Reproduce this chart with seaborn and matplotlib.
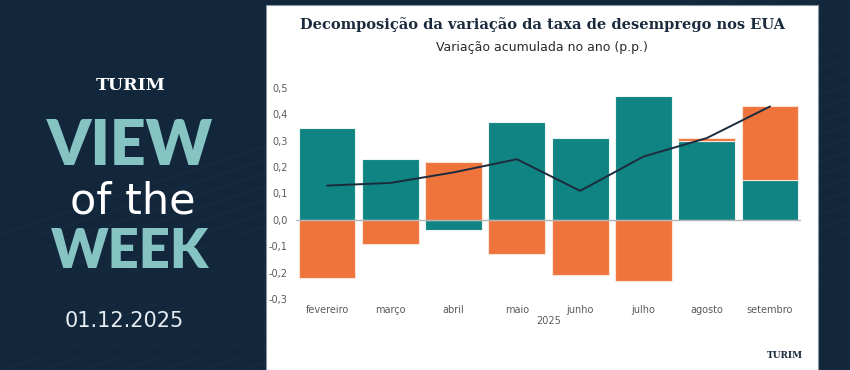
import numpy as np
import pandas as pd
import seaborn as sns
import matplotlib.pyplot as plt
from matplotlib.patches import Rectangle
from matplotlib.lines import Line2D
from matplotlib.ticker import FuncFormatter, MultipleLocator

# ---- data ----
months = ["fevereiro", "março", "abril", "maio", "junho", "julho", "agosto", "setembro"]
teal_vals = [0.35, 0.23, -0.04, 0.37, 0.31, 0.47, 0.30, 0.15]
orange_vals = [-0.22, -0.09, 0.22, -0.13, -0.21, -0.23, 0.01, 0.28]
total_vals = [0.13, 0.14, 0.18, 0.23, 0.11, 0.24, 0.31, 0.43]
year_label = "2025"
title = "Decomposição da variação da taxa de desemprego nos EUA"
subtitle = "Variação acumulada no ano (p.p.)"

NAVY = "#12263c"
TEAL = "#0f8482"
ORANGE = "#ef743b"
LINE = "#1c2c3e"
LIGHT_TEAL = "#86c4c3"

sns.set_theme(style="white")
plt.rcParams["font.family"] = ["DejaVu Sans"]

W, H = 850, 370
fig = plt.figure(figsize=(W / 100, H / 100), dpi=100)
fig.patch.set_facecolor(NAVY)

def px(x, y):
    return x / W, 1 - y / H

# faint diagonal lines in background (rising to the right)
for k in range(-10, 16):
    x0 = k * 40
    fig.add_artist(Line2D([x0 / W, (x0 + 1100) / W], [0.0, 1.0],
                          transform=fig.transFigure, color="white", alpha=0.03, lw=0.8))

# white panel
fig.add_artist(Rectangle(px(266, 370), (818 - 266) / W, (370 - 5) / H,
                         transform=fig.transFigure, facecolor="white",
                         edgecolor="#8a96a3", lw=0.8, zorder=1))

# ---- chart ----
df = pd.DataFrame({"mes": months, "teal": teal_vals, "orange": orange_vals, "total": total_vals})
t = np.array(teal_vals)
o = np.array(orange_vals)
orange_bottom = np.where((t > 0) & (o > 0), t, np.where((t < 0) & (o < 0), t, 0.0))

ax = fig.add_axes([296 / W, 1 - 299 / H, (801 - 296) / W, (299 - 88) / H])
ax.set_facecolor("white")
ax.set_zorder(2)
sns.barplot(data=df, x="mes", y="teal", color=TEAL, width=0.9, errorbar=None,
            saturation=1, edgecolor="#e9f4f3", linewidth=0.8, ax=ax)
sns.barplot(data=df, x="mes", y="orange", color=ORANGE, width=0.9, errorbar=None,
            saturation=1, edgecolor="#fbe3d8", linewidth=0.8, bottom=orange_bottom, ax=ax)
ax.axhline(0, color="#b5b5b5", lw=1.0, zorder=3)
sns.lineplot(x=np.arange(len(months)), y=df["total"], color=LINE, lw=1.4, ax=ax, zorder=4)

ax.set_ylim(-0.3, 0.5)
ax.set_xlim(-0.49, len(months) - 0.51)
ax.yaxis.set_major_locator(MultipleLocator(0.1))
ax.yaxis.set_major_formatter(FuncFormatter(lambda v, p: f"{v:.1f}".replace(".", ",").replace("-0,0", "0,0")))
for s in ax.spines.values():
    s.set_visible(False)
ax.tick_params(axis="both", length=0, labelsize=7, labelcolor="#5a5a5a")
ax.tick_params(axis="y", pad=6)
ax.tick_params(axis="x", pad=4)
ax.set_ylabel("")
ax.set_xlabel(year_label, fontsize=7, color="#5a5a5a", labelpad=1)
ax.grid(False)

fig.text(542 / W, 1 - 25 / H, title, ha="center", va="center", fontsize=10.5,
         fontweight="bold", family="DejaVu Serif", color="#1b2b3d", zorder=5)
fig.text(542 / W, 1 - 47 / H, subtitle, ha="center", va="center", fontsize=9,
         color="#2a2a2a", zorder=5)

# bottom-right logo
fig.text(785 / W, 1 - 356 / H, "TURIM", ha="center", va="center", fontsize=6.5,
         fontweight="bold", family="DejaVu Serif", color="#1b2b3d", zorder=5)

# ---- left panel ----
fig.text(131 / W, 1 - 85 / H, "TURIM", ha="center", va="center", fontsize=12.5,
         fontweight="bold", family="DejaVu Serif", color="white")
fig.text(130 / W, 1 - 165 / H, "VIEW", ha="center", va="baseline", fontsize=45,
         fontweight="heavy", family="Lato", color=LIGHT_TEAL)
fig.text(133 / W, 1 - 213 / H, "of the", ha="center", va="baseline", fontsize=31,
         fontweight="normal", family="DejaVu Sans", color="white")
fig.text(130 / W, 1 - 268 / H, "WEEK", ha="center", va="baseline", fontsize=39,
         fontweight="heavy", family="Lato", color=LIGHT_TEAL)
fig.text(124 / W, 1 - 327 / H, "01.12.2025", ha="center", va="baseline", fontsize=15,
         family="DejaVu Sans", color="#e8edf2")

fig.savefig("out.png", dpi=100, facecolor=fig.get_facecolor())
